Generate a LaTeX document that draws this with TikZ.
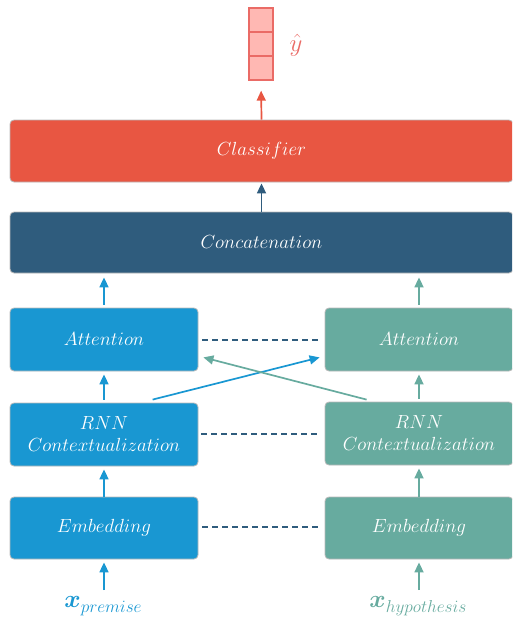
\RequirePackage{fix-cm}
\documentclass[tikz,border=0pt]{standalone}
\usepackage{amsmath,bm}
\usetikzlibrary{calc,arrows.meta}
\definecolor{cblue}{HTML}{1997D2}
\definecolor{cgreen}{HTML}{67AB9F}
\definecolor{cred}{HTML}{E85642}
\definecolor{cdark}{HTML}{2F5C7D}
\definecolor{vfill}{HTML}{FFB8B3}
\definecolor{vdraw}{HTML}{EA6B66}
\newcommand{\inlabel}[1]{{\fontsize{24.88}{26}\selectfont$\bm{x}$}\raisebox{-5pt}{\fontsize{17.28}{18}\selectfont$#1$}}
\tikzset{
  box/.style={draw=gray!55, line width=0.8pt, rounded corners=4pt, inner sep=0pt, text=white,
    font=\fontsize{19}{23}\selectfont, align=center},
  arr/.style={line width=1.7pt, -{Triangle[length=10pt,width=9pt]}},
  dash line/.style={line width=1.5pt, cdark, dash pattern=on 6pt off 4pt},
  cell/.style={draw=vdraw, fill=vfill, line width=1.3pt, minimum width=24pt, minimum height=24pt, inner sep=0pt},
  lbl/.style={inner sep=0pt}
}
\begin{document}
\begin{tikzpicture}[x=1pt,y=-1pt]
\useasboundingbox (0,0) rectangle (512,618);
\clip (0,0) rectangle (512,618);
% vector
\node[cell] (v1) at (261,20) {};
\node[cell] (v2) at (261,44) {};
\node[cell] (v3) at (261,68) {};
\node[lbl, text=vdraw, font=\fontsize{24.88}{26}\selectfont] (yh) at (296,45) {$\hat{y}$};
% wide boxes
\node[box, fill=cred, minimum width=503pt, minimum height=62pt] (cls) at (261.5,151) {$Classifier$};
\node[box, fill=cdark, minimum width=503pt, minimum height=61pt] (cat) at (261.5,242.5) {$Concatenation$};
% left column
\node[box, fill=cblue, minimum width=188pt, minimum height=63pt] (LA) at (104,339.5) {$Attention$};
\node[box, fill=cblue, minimum width=188pt, minimum height=63pt] (LR) at (104,434.5) {$RNN$\\[-1pt]$Contextualization$};
\node[box, fill=cblue, minimum width=188pt, minimum height=62pt] (LE) at (104,528) {$Embedding$};
% right column
\node[box, fill=cgreen, minimum width=188pt, minimum height=63pt] (RA) at (419,339.5) {$Attention$};
\node[box, fill=cgreen, minimum width=188pt, minimum height=63pt] (RR) at (419,433.5) {$RNN$\\[-1pt]$Contextualization$};
\node[box, fill=cgreen, minimum width=188pt, minimum height=62pt] (RE) at (419,528) {$Embedding$};
% inputs
\node[lbl, text=cblue] (xp) at (103,606) {\inlabel{premise}};
\node[lbl, text=cgreen] (xh) at (418,606) {\inlabel{hypothesis}};
% vertical arrows
\draw[arr, cred, shorten >=10pt] (cls.north) -- (v3.south);
\draw[arr, cdark, shorten >=1pt] (cat.north) -- (cls.south);
\draw[arr, cblue, shorten <=3pt, shorten >=4pt] (LA.north) -- (LA.north |- cat.south);
\draw[arr, cgreen, shorten <=3pt, shorten >=4pt] (RA.north) -- (RA.north |- cat.south);
\draw[arr, cblue, shorten <=3pt, shorten >=3pt] (LR.north) -- (LA.south);
\draw[arr, cgreen, shorten <=3pt, shorten >=3pt] (RR.north) -- (RA.south);
\draw[arr, cblue, shorten <=0pt, shorten >=3pt] (LE.north) -- (LR.south);
\draw[arr, cgreen, shorten <=0pt, shorten >=3pt] (RE.north) -- (RR.south);
\draw[arr, cblue, shorten <=6pt, shorten >=3pt] (xp.north -| LE.south) -- (LE.south);
\draw[arr, cgreen, shorten <=6pt, shorten >=3pt] (xh.north -| RE.south) -- (RE.south);
% dashed connections
\draw[dash line, shorten <=4pt, shorten >=5pt] (LA.east |- 0,340) -- (RA.west |- 0,340);
\draw[dash line, shorten <=3pt, shorten >=5pt] (LR.east |- 0,434) -- (RR.west |- 0,434);
\draw[dash line, shorten <=4pt, shorten >=5pt] (LE.east |- 0,527) -- (RE.west |- 0,527);
% cross arrows
\coordinate (bs) at ($(LR.north west)+(143,-3)$);
\coordinate (be) at ($(RA.south west)+(-5,-14)$);
\coordinate (gs) at ($(RR.north west)+(42,-2)$);
\coordinate (ge) at ($(LA.south east)+(5,-14)$);
\draw[arr, cblue] (bs) -- (be);
\draw[arr, cgreen] (gs) -- (ge);
\end{tikzpicture}
\end{document}
